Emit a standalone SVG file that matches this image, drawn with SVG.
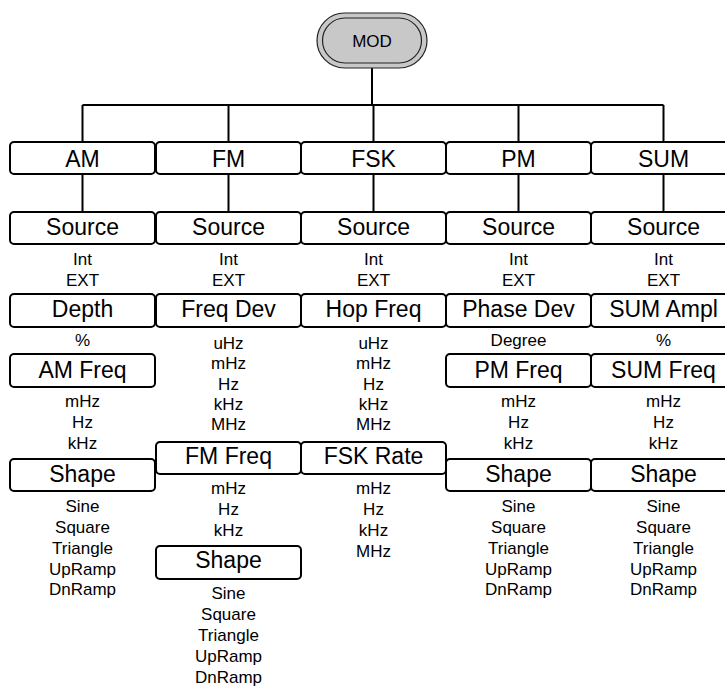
<svg xmlns="http://www.w3.org/2000/svg" width="725" height="689" viewBox="0 0 725 689">
<style>
.box{fill:#fff;stroke:#000;stroke-width:2}
.lbl{font-family:"Liberation Sans",Arial,sans-serif;font-size:23px;text-anchor:middle;fill:#000}
.sm{font-family:"Liberation Sans",Arial,sans-serif;font-size:17px;text-anchor:middle;fill:#000}
.con{stroke:#000;stroke-width:2;fill:none}
</style>
<rect width="725" height="689" fill="#fff"/>
<g id="connectors">
<path class="con" d="M372 68V105M82.5 105H663.5M82.5 105V142M228.5 105V142M373.5 105V142M518.5 105V142M663.5 105V142"/>
<path class="con" d="M82.5 174V212M228.5 174V212M373.5 174V212M518.5 174V212M663.5 174V212"/>
</g>
<g id="MOD">
<rect x="317" y="13" width="110" height="55" rx="27.5" fill="#c8c8c8" stroke="#222" stroke-width="1.2"/>
<rect x="322.5" y="18" width="99" height="45" rx="22.5" fill="#c8c8c8" stroke="#222" stroke-width="1.2"/>
<text class="sm" x="372" y="46.5">MOD</text>
</g>
<g id="AM">
<rect class="box" x="10" y="142" width="145" height="32" rx="4"/><text class="lbl" x="82.5" y="166.5">AM</text>
</g>
<g id="FM">
<rect class="box" x="156" y="142" width="145" height="32" rx="4"/><text class="lbl" x="228.5" y="166.5">FM</text>
</g>
<g id="FSK">
<rect class="box" x="301" y="142" width="145" height="32" rx="4"/><text class="lbl" x="373.5" y="166.5">FSK</text>
</g>
<g id="PM">
<rect class="box" x="446" y="142" width="145" height="32" rx="4"/><text class="lbl" x="518.5" y="166.5">PM</text>
</g>
<g id="SUM">
<rect class="box" x="591" y="142" width="145" height="32" rx="4"/><text class="lbl" x="663.5" y="166.5">SUM</text>
</g>
<g id="am-col">
<rect class="box" x="10" y="212" width="145" height="32" rx="4"/><text class="lbl" x="82.5" y="235">Source</text>
<text class="sm" x="82.5" y="264.5">Int</text><text class="sm" x="82.5" y="286">EXT</text>
<rect class="box" x="10" y="294" width="145" height="33" rx="4"/><text class="lbl" x="82.5" y="317">Depth</text>
<text class="sm" x="82.5" y="346">%</text>
<rect class="box" x="10" y="354" width="145" height="33" rx="4"/><text class="lbl" x="82.5" y="378">AM Freq</text>
<text class="sm" x="82.5" y="407">mHz</text><text class="sm" x="82.5" y="428">Hz</text><text class="sm" x="82.5" y="448.5">kHz</text>
<rect class="box" x="10" y="459" width="145" height="32" rx="4"/><text class="lbl" x="82.5" y="482">Shape</text>
<text class="sm" x="82.5" y="512">Sine</text><text class="sm" x="82.5" y="533">Square</text><text class="sm" x="82.5" y="553.5">Triangle</text><text class="sm" x="82.5" y="574.5">UpRamp</text><text class="sm" x="82.5" y="595">DnRamp</text>
</g>
<g id="fm-col">
<rect class="box" x="156" y="212" width="145" height="32" rx="4"/><text class="lbl" x="228.5" y="235">Source</text>
<text class="sm" x="228.5" y="264.5">Int</text><text class="sm" x="228.5" y="286">EXT</text>
<rect class="box" x="156" y="294" width="145" height="33" rx="4"/><text class="lbl" x="228.5" y="317">Freq Dev</text>
<text class="sm" x="228.5" y="348.5">uHz</text><text class="sm" x="228.5" y="369">mHz</text><text class="sm" x="228.5" y="390">Hz</text><text class="sm" x="228.5" y="409.5">kHz</text><text class="sm" x="228.5" y="430">MHz</text>
<rect class="box" x="156" y="442" width="145" height="32" rx="4"/><text class="lbl" x="228.5" y="463.5">FM Freq</text>
<text class="sm" x="228.5" y="494">mHz</text><text class="sm" x="228.5" y="515">Hz</text><text class="sm" x="228.5" y="536">kHz</text>
<rect class="box" x="156" y="546" width="145" height="33" rx="4"/><text class="lbl" x="228.5" y="568">Shape</text>
<text class="sm" x="228.5" y="599">Sine</text><text class="sm" x="228.5" y="620">Square</text><text class="sm" x="228.5" y="641">Triangle</text><text class="sm" x="228.5" y="662">UpRamp</text><text class="sm" x="228.5" y="683">DnRamp</text>
</g>
<g id="fsk-col">
<rect class="box" x="301" y="212" width="145" height="32" rx="4"/><text class="lbl" x="373.5" y="235">Source</text>
<text class="sm" x="373.5" y="264.5">Int</text><text class="sm" x="373.5" y="286">EXT</text>
<rect class="box" x="301" y="294" width="145" height="33" rx="4"/><text class="lbl" x="373.5" y="317">Hop Freq</text>
<text class="sm" x="373.5" y="348.5">uHz</text><text class="sm" x="373.5" y="369">mHz</text><text class="sm" x="373.5" y="390">Hz</text><text class="sm" x="373.5" y="409.5">kHz</text><text class="sm" x="373.5" y="430">MHz</text>
<rect class="box" x="301" y="442" width="145" height="32" rx="4"/><text class="lbl" x="373.5" y="463.5">FSK Rate</text>
<text class="sm" x="373.5" y="494">mHz</text><text class="sm" x="373.5" y="515">Hz</text><text class="sm" x="373.5" y="536">kHz</text><text class="sm" x="373.5" y="556.5">MHz</text>
</g>
<g id="pm-col">
<rect class="box" x="446" y="212" width="145" height="32" rx="4"/><text class="lbl" x="518.5" y="235">Source</text>
<text class="sm" x="518.5" y="264.5">Int</text><text class="sm" x="518.5" y="286">EXT</text>
<rect class="box" x="446" y="294" width="145" height="33" rx="4"/><text class="lbl" x="518.5" y="317">Phase Dev</text>
<text class="sm" x="518.5" y="346">Degree</text>
<rect class="box" x="446" y="354" width="145" height="33" rx="4"/><text class="lbl" x="518.5" y="378">PM Freq</text>
<text class="sm" x="518.5" y="407">mHz</text><text class="sm" x="518.5" y="428">Hz</text><text class="sm" x="518.5" y="448.5">kHz</text>
<rect class="box" x="446" y="459" width="145" height="32" rx="4"/><text class="lbl" x="518.5" y="482">Shape</text>
<text class="sm" x="518.5" y="512">Sine</text><text class="sm" x="518.5" y="533">Square</text><text class="sm" x="518.5" y="553.5">Triangle</text><text class="sm" x="518.5" y="574.5">UpRamp</text><text class="sm" x="518.5" y="595">DnRamp</text>
</g>
<g id="sum-col">
<rect class="box" x="591" y="212" width="145" height="32" rx="4"/><text class="lbl" x="663.5" y="235">Source</text>
<text class="sm" x="663.5" y="264.5">Int</text><text class="sm" x="663.5" y="286">EXT</text>
<rect class="box" x="591" y="294" width="145" height="33" rx="4"/><text class="lbl" x="663.5" y="317">SUM Ampl</text>
<text class="sm" x="663.5" y="346">%</text>
<rect class="box" x="591" y="354" width="145" height="33" rx="4"/><text class="lbl" x="663.5" y="378">SUM Freq</text>
<text class="sm" x="663.5" y="407">mHz</text><text class="sm" x="663.5" y="428">Hz</text><text class="sm" x="663.5" y="448.5">kHz</text>
<rect class="box" x="591" y="459" width="145" height="32" rx="4"/><text class="lbl" x="663.5" y="482">Shape</text>
<text class="sm" x="663.5" y="512">Sine</text><text class="sm" x="663.5" y="533">Square</text><text class="sm" x="663.5" y="553.5">Triangle</text><text class="sm" x="663.5" y="574.5">UpRamp</text><text class="sm" x="663.5" y="595">DnRamp</text>
</g>
</svg>
